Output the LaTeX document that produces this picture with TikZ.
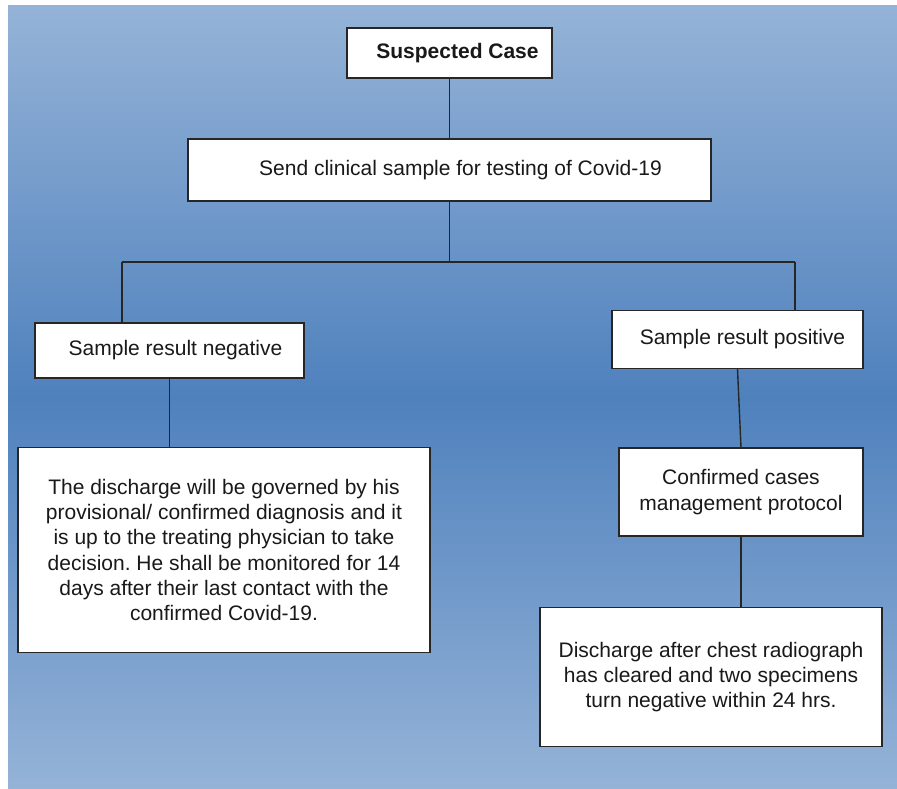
\documentclass[tikz,border=0pt]{standalone}
\usepackage{fontspec}
\setmainfont{Liberation Sans}
\frenchspacing
\begin{document}
\begin{tikzpicture}[x=1pt,y=-1pt,
  box/.style={draw=black!85,line width=1.4pt,fill=white,inner sep=0pt,
    font=\fontsize{21}{25.2}\selectfont,text=black!90,align=center},
  conn/.style={draw=black!85,line width=1.4pt}]
\useasboundingbox (0,0) rectangle (897,789);
\fill[white] (0,0) rectangle (897,789);
\shade[top color={rgb,255:red,149;green,179;blue,215},
       bottom color={rgb,255:red,149;green,179;blue,215},
       middle color={rgb,255:red,79;green,129;blue,189}]
  (8,6) rectangle (897,789);
\node[box,minimum width=205pt,minimum height=50pt,font=\fontsize{21}{25.2}\selectfont\bfseries] (sus) at (449.5,53) {\hspace{16pt}Suspected Case};
\node[box,minimum width=523pt,minimum height=62pt] (send) at (449.5,170) {\hspace{22pt}Send clinical sample for testing of Covid-19};
\node[box,minimum width=269pt,minimum height=55pt] (neg) at (169.5,350.5) {\hspace{12pt}Sample result negative};
\node[box,minimum width=251pt,minimum height=58pt] (pos) at (737.5,339.5) {\hspace{10pt}Sample result positive};
\node[box,minimum width=412pt,minimum height=205pt] (left) at (224,550) {The discharge will be governed by his\\provisional/ confirmed diagnosis and it\\is up to the treating physician to take\\decision. He shall be monitored for 14\\days after their last contact with the\\confirmed Covid-19.};
\node[box,minimum width=244pt,minimum height=88pt] (conf) at (741,492) {Confirmed cases\\management protocol};
\node[box,minimum width=342pt,minimum height=139pt] (dis) at (711,677) {Discharge after chest radiograph\\has cleared and two specimens\\turn negative within 24 hrs.};
\coordinate (j) at (449.5,262);
\coordinate (jl) at (122,262);
\coordinate (jr) at (795,262);
\draw[conn] (sus.south) -- (send.north);
\draw[conn] (send.south) -- (j);
\draw[conn] (jl) -- (jr);
\draw[conn] (jl) -- (jl |- neg.north);
\draw[conn] (jr) -- (jr |- pos.north);
\draw[conn] (neg.south) -- (neg.south |- left.north);
\draw[conn] (pos.south) -- (conf.north);
\draw[conn] (conf.south) -- (conf.south |- dis.north);
\end{tikzpicture}
\end{document}
